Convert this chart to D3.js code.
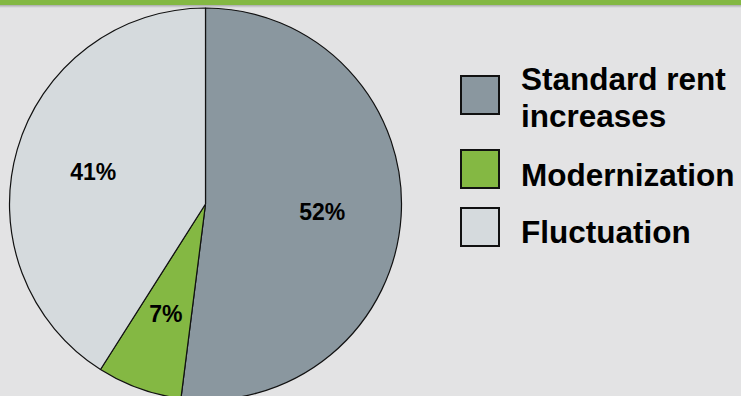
<!DOCTYPE html>
<html><head><meta charset="utf-8">
<script src="https://cdn.jsdelivr.net/npm/d3@7"></script>
<style>
html,body{margin:0;padding:0;background:#e3e3e4;overflow:hidden}
svg{display:block}
text{font-family:"Liberation Sans",Arial,sans-serif;font-weight:bold;fill:#000}
</style></head>
<body>
<svg id="c" width="741" height="396"></svg>
<script>
const categories = ["Standard rent increases", "Modernization", "Fluctuation"];
const legendLines = [["Standard rent", "increases"], ["Modernization"], ["Fluctuation"]];
const values = [52, 7, 41];
const labels = ["52%", "7%", "41%"];
const colors = ["#8a979f", "#84b843", "#d5dadd"];

const svg = d3.select("#c");
svg.append("rect").attr("width", 741).attr("height", 396).attr("fill", "#e3e3e4");

const cx = 205.5, cy = 204, R = 196;
const pie = d3.pie().sort(null).value(d => d)(values);
const arc = d3.arc().innerRadius(0).outerRadius(R);
const labelArc = d3.arc().innerRadius(117).outerRadius(117);

const g = svg.append("g").attr("transform", `translate(${cx},${cy})`);
g.selectAll("path").data(pie).join("path")
  .attr("d", arc)
  .attr("fill", (d, i) => colors[i])
  .attr("stroke", "#111")
  .attr("stroke-width", 1.2)
  .attr("stroke-linejoin", "round");

g.selectAll("text.lbl").data(pie).join("text")
  .attr("class", "lbl")
  .attr("transform", d => `translate(${labelArc.centroid(d)})`)
  .attr("text-anchor", "middle")
  .attr("dy", "0.36em")
  .attr("font-size", 23)
  .text((d, i) => labels[i]);

// top bar
const grad = svg.append("defs").append("linearGradient").attr("id", "sh")
  .attr("x1", 0).attr("y1", 0).attr("x2", 0).attr("y2", 1);
grad.append("stop").attr("offset", "0%").attr("stop-color", "#000").attr("stop-opacity", 0.25);
grad.append("stop").attr("offset", "100%").attr("stop-color", "#000").attr("stop-opacity", 0);
svg.append("rect").attr("x", 0).attr("y", 5).attr("width", 741).attr("height", 3).attr("fill", "url(#sh)");
svg.append("rect").attr("x", 0).attr("y", 0).attr("width", 741).attr("height", 5).attr("fill", "#84b843");

// legend
const boxY = [75, 149, 207];
const textY = [[90, 127], [186], [243]];
const lg = svg.append("g");
categories.forEach((c, i) => {
  lg.append("rect").attr("x", 461).attr("y", boxY[i] + 1).attr("width", 38).attr("height", 38)
    .attr("fill", colors[i]).attr("stroke", "#111").attr("stroke-width", 2);
  const t = lg.append("text").attr("font-size", 31.5);
  legendLines[i].forEach((line, j) => {
    t.append("tspan").attr("x", 521).attr("y", textY[i][j]).text(line);
  });
});
</script>
</body></html>
